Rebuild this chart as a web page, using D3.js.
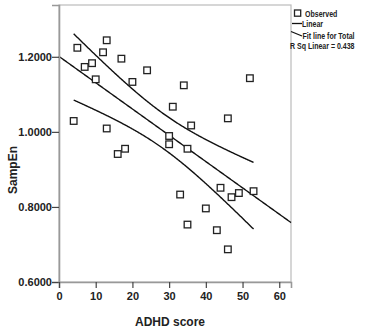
<!DOCTYPE html>
<meta charset="utf-8">
<script src="https://d3js.org/d3.v7.min.js"></script>
<style>
  body { margin: 0; background: #fff; }
  text { font-family: "Liberation Sans", Arial, sans-serif; font-weight: bold; fill: #222; }
</style>
<div id="chart"></div>
<script>
// ADHD score vs SampEn
var adhd = [5, 13, 12, 7, 9, 10, 17, 20, 24, 4, 13, 16, 18, 34, 31, 36, 30, 30, 35, 33, 35, 40, 43, 44, 46, 46, 47, 49, 53, 52];
var sampen = [1.224, 1.244, 1.212, 1.173, 1.183, 1.140, 1.195, 1.133, 1.164, 1.029, 1.009, 0.941, 0.955, 1.124, 1.067, 1.017, 0.989, 0.967, 0.955, 0.833, 0.753, 0.796, 0.738, 0.851, 0.687, 1.036, 0.826, 0.837, 0.842, 1.143];
var xTicks = [0, 10, 20, 30, 40, 50, 60];
var yTicks = [0.6, 0.8, 1.0, 1.2];
var legendLabels = ["Observed", "Linear", "Fit line for Total", "R Sq Linear = 0.438"];

var width = 365, height = 333;
var svg = d3.select("#chart").append("svg").attr("width", width).attr("height", height);

var mLeft = 59, mRight = 291, mTop = 5, mBottom = 282;
var x = d3.scaleLinear().domain([0, 63.2]).range([mLeft, mRight]);
var y = d3.scaleLinear().domain([0.6, 1.338]).range([mBottom, mTop]);

// frame
svg.append("rect").attr("x", mLeft).attr("y", mTop).attr("width", mRight - mLeft).attr("height", mBottom - mTop)
  .attr("fill", "none").attr("stroke", "#bbb").attr("stroke-width", 1.2);

// linear fit + 95% CI of mean
var data = adhd.map(function(d, i) { return [d, sampen[i]]; });
var n = data.length;
var mx = d3.mean(adhd), my = d3.mean(sampen);
var sxx = d3.sum(adhd, function(d) { return (d - mx) * (d - mx); });
var sxy = d3.sum(data, function(d) { return (d[0] - mx) * (d[1] - my); });
var b = sxy / sxx, a = my - b * mx;
var sse = d3.sum(data, function(d) { var r = d[1] - (a + b * d[0]); return r * r; });
var s = Math.sqrt(sse / (n - 2));
var t = 2.048;
function fit(v) { return a + b * v; }
function band(v, sign) { return fit(v) + sign * t * s * Math.sqrt(1 / n + (v - mx) * (v - mx) / sxx); }

var line = d3.line().x(function(d) { return x(d[0]); }).y(function(d) { return y(d[1]); });
var full = d3.range(0, 63.21, 0.2);
var span = d3.range(d3.min(adhd), d3.max(adhd) + 0.01, 0.2);

svg.append("path").attr("d", line(full.map(function(v) { return [v, fit(v)]; })))
  .attr("fill", "none").attr("stroke", "#111").attr("stroke-width", 1.4);
[1, -1].forEach(function(sg) {
  svg.append("path").attr("d", line(span.map(function(v) { return [v, band(v, sg)]; })))
    .attr("fill", "none").attr("stroke", "#111").attr("stroke-width", 1.4);
});

// points
svg.append("g").selectAll("rect").data(data).enter().append("rect")
  .attr("x", function(d) { return x(d[0]) - 3.3; })
  .attr("y", function(d) { return y(d[1]) - 3.3; })
  .attr("width", 6.6).attr("height", 6.6)
  .attr("fill", "#fff").attr("stroke", "#222").attr("stroke-width", 1.3);

// axes
var yAxis = d3.axisLeft(y).tickValues(yTicks).tickSize(7).tickFormat(d3.format(".4f"));
var gy = svg.append("g").attr("transform", "translate(" + mLeft + ",0)").call(yAxis);
var xAxis = d3.axisBottom(x).tickValues(xTicks).tickSize(6).tickFormat(d3.format("d"));
var gx = svg.append("g").attr("transform", "translate(0," + mBottom + ")").call(xAxis);
[gx, gy].forEach(function(g) {
  g.select(".domain").attr("stroke", "#999").attr("stroke-width", 1.6);
  g.selectAll(".tick line").attr("stroke", "#444").attr("stroke-width", 1.2);
  g.selectAll(".tick text").style("font-family", "Liberation Sans, Arial, sans-serif")
    .style("font-weight", "bold").style("font-size", "11px").attr("fill", "#333");
});
gy.selectAll(".tick text").attr("x", -7).attr("dy", "0.35em");
gx.selectAll(".tick text").attr("y", 10);

svg.append("text").attr("x", (mLeft + mRight) / 2 - 5).attr("y", 326).attr("text-anchor", "middle")
  .style("font-size", "12px").text("ADHD score");
svg.append("text").attr("transform", "translate(17,170) rotate(-90)").attr("text-anchor", "middle")
  .style("font-size", "12px").text("SampEn");

// legend (narrow type)
var lg = svg.append("g").style("font-size", "9px");
lg.append("rect").attr("x", 294.5).attr("y", 10).attr("width", 6.2).attr("height", 6.2)
  .attr("fill", "#fff").attr("stroke", "#222").attr("stroke-width", 1.3);
lg.append("line").attr("x1", 292).attr("x2", 302).attr("y1", 23.5).attr("y2", 23.5).attr("stroke", "#111").attr("stroke-width", 1.3);
lg.append("line").attr("x1", 291).attr("x2", 302).attr("y1", 31.5).attr("y2", 36).attr("stroke", "#111").attr("stroke-width", 1.3);
var legendPos = [[305, 16.5], [302, 27], [302.5, 39], [290, 48.5]];
legendLabels.forEach(function(lab, i) {
  lg.append("text").attr("transform", "translate(" + legendPos[i][0] + "," + legendPos[i][1] + ") scale(0.78,1)")
    .text(lab);
});
</script>
